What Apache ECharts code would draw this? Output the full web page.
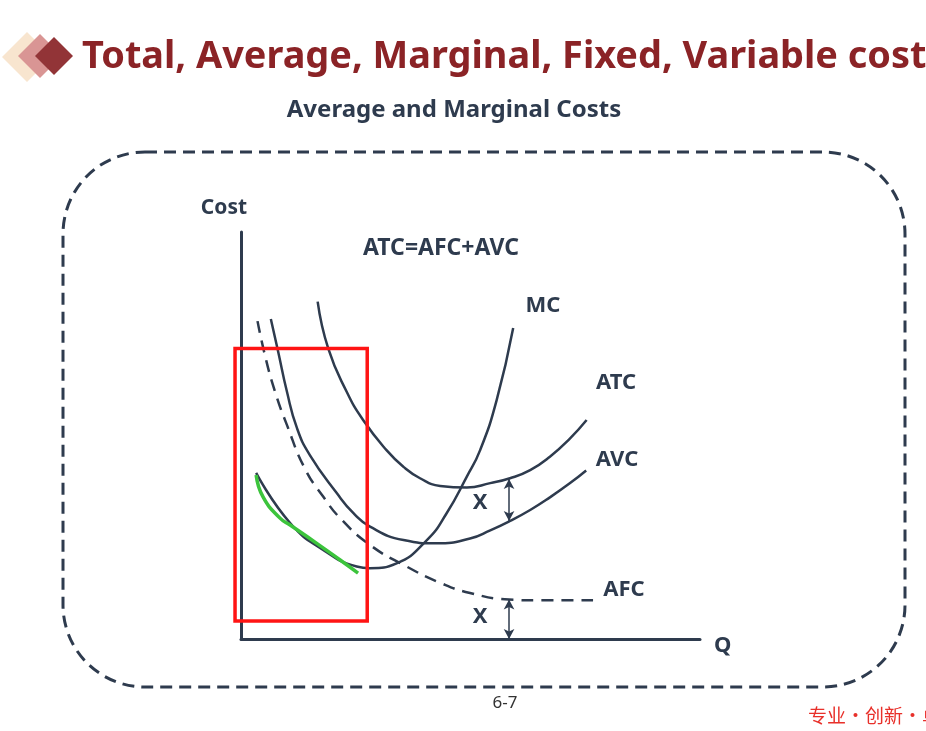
<!DOCTYPE html>
<html>
<head>
<meta charset="utf-8">
<script src="https://cdn.jsdelivr.net/npm/echarts@6/dist/echarts.min.js"></script>
<style>
html,body{margin:0;padding:0;background:#fff;}
#chart{width:926px;height:731px;}
</style>
</head>
<body>
<div id="chart"></div>
<script>
// ---- data (x = quantity, y = cost, arbitrary units 0..100) ----
const mcData = [[3.3,40.8],[10.7,28.5],[17.9,21.9],[25.2,17.8],[28.1,17.4],[33.9,18.6],[40.5,24.3],[44.8,30.9],[49.2,39.9],[52.1,46.4],[55.7,58.7],[59.3,76.4]];
const atcData = [[16.7,82.9],[19.0,71.4],[23.0,60.8],[26.6,53.8],[31.7,46.4],[35.4,42.3],[39.0,39.5],[43.4,37.6],[49.2,37.2],[54.3,38.3],[58.6,39.5],[63.0,41.5],[67.3,44.8],[71.7,49.3],[75.3,53.8]];
const avcData = [[6.5,78.6],[8.1,70.6],[10.0,60.8],[12.2,51.8],[15.0,45.2],[20.9,35.8],[24.5,30.9],[28.1,27.6],[35.4,24.3],[42.6,23.5],[49.9,24.7],[54.3,26.7],[58.6,29.0],[63.0,31.7],[67.3,34.8],[71.7,38.3],[75.2,41.4]];
const afcData = [[3.6,78.1],[5.2,69.8],[7.4,60.8],[10.0,52.6],[13.9,41.9],[17.9,35.0],[21.6,29.7],[28.1,23.1],[36.1,17.8],[43.4,13.8],[49.9,11.3],[58.4,9.7],[65.1,9.5],[76.7,9.5]];
const highlightData = [[3.3,40.3],[4.8,34.9],[8.5,29.7],[10.7,28.0],[16.5,23.5],[21.6,19.4],[25.5,16.2]];
const boxData = [[-1.3,71.4],[27.5,71.4],[27.5,4.4],[-1.3,4.4]];
const gapArrows = [[[58.4,39.3],[58.4,29.0]],[[58.4,9.7],[58.4,0]]];
const curveNames = ['MC','ATC','AVC','AFC'];

const ink = '#2e3b4e';
const font = '"Noto Sans", "Open Sans", sans-serif';

const chart = echarts.init(document.getElementById('chart'));

function lbl(text, x, y, size, color, weight, align, family) {
  return {type:'text', x:x, y:y, style:{text:text, fontSize:size, fontWeight:weight||'bold', fontFamily:family||font, fill:color||ink, align:align||'center', verticalAlign:'middle'}};
}

const curveStyle = {color:ink, width:2.5};
function curve(name, data, extra) {
  return Object.assign({name:name, type:'line', data:data, smooth:0.5, showSymbol:false, lineStyle:curveStyle, z:3}, extra||{});
}

chart.setOption({
  animation:false,
  backgroundColor:'#ffffff',
  grid:{left:241, top:232, width:459, height:407},
  xAxis:{type:'value', min:0, max:100, splitLine:{show:false}, axisTick:{show:false}, axisLabel:{show:false},
    axisLine:{show:true, lineStyle:{color:ink, width:3}},
    name:'Q', nameLocation:'end', nameGap:14, nameTextStyle:{fontSize:22, fontWeight:'bold', color:ink, fontFamily:font, verticalAlign:'top', lineHeight:13}},
  yAxis:{type:'value', min:0, max:100, splitLine:{show:false}, axisTick:{show:false}, axisLabel:{show:false},
    axisLine:{show:true, lineStyle:{color:ink, width:3}}},
  series:[
    curve(curveNames[0], mcData),
    curve(curveNames[1], atcData),
    curve(curveNames[2], avcData),
    curve(curveNames[3], afcData, {lineStyle:{color:ink, width:2.5, type:[12,8]}}),
    curve('highlight', highlightData, {lineStyle:{color:'#3cc43c', width:3.5}, z:4}),
    {name:'gaps', type:'line', data:[], markLine:{silent:true, symbol:['arrow','arrow'], symbolSize:[8,10], label:{show:false},
      lineStyle:{color:ink, width:1.5, type:'solid'},
      data:gapArrows.map(a => [{coord:a[0]},{coord:a[1]}])}}
  ],
  graphic:[
    {type:'polygon', shape:{points:[[2,57],[27,32],[52,57],[27,82]]}, style:{fill:'#f8e5cf'}},
    {type:'polygon', shape:{points:[[18,56],[40,34],[62,56],[40,78]]}, style:{fill:'#d99594'}},
    {type:'polygon', shape:{points:[[35,56],[54,37],[73,56],[54,75]]}, style:{fill:'#923437'}},
    lbl('Total, Average, Marginal, Fixed, Variable cost', 82, 57, 37.9, '#8b2326', 'bold', 'left'),
    lbl('Average and Marginal Costs', 454, 110, 24, ink),
    {type:'rect', shape:{x:63, y:152, width:842, height:535, r:82}, style:{fill:'none', stroke:ink, lineWidth:3, lineDash:[12,7]}},
    lbl('Cost', 224, 208, 21, ink),
    lbl('ATC=AFC+AVC', 441, 248, 23, ink),
    lbl(curveNames[0], 543, 306, 22, ink),
    lbl(curveNames[1], 616, 383, 22, ink),
    lbl(curveNames[2], 617, 460, 22, ink),
    lbl(curveNames[3], 624, 590, 22, ink),
    lbl('X', 480, 503, 22, ink),
    lbl('X', 480, 617, 22, ink),
    lbl('6-7', 505, 703, 17, '#333333', 'normal'),
    lbl('专业・创新・卓越', 808, 716, 19, '#e8302a', 'normal', 'left', '"Noto Sans CJK SC", sans-serif')
  ]
});

// red highlight box, positioned through the chart's own scales
const boxPts = boxData.map(p => chart.convertToPixel({gridIndex:0}, p));
chart.setOption({
  graphic:[{id:'box', type:'polygon', shape:{points:boxPts}, style:{fill:'none', stroke:'#ff1414', lineWidth:3.5}, z:10}]
});
</script>
</body>
</html>
